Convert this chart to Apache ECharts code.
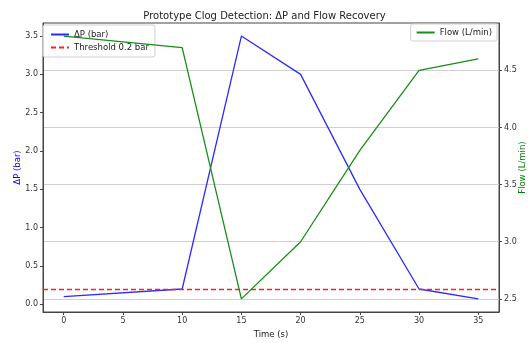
<!DOCTYPE html>
<html>
<head>
<meta charset="utf-8">
<script src="https://cdn.jsdelivr.net/npm/echarts@6/dist/echarts.min.js"></script>
<style>
html, body { margin: 0; padding: 0; background: #fff; }
#chart { width: 529px; height: 343px; }
</style>
</head>
<body>
<div id="chart"></div>
<script>
const timeS = [0, 10, 15, 20, 25, 30, 35];
const dpBar = [0.1, 0.2, 3.5, 3.0, 1.5, 0.2, 0.07];
const flowLmin = [4.8, 4.7, 2.5, 3.0, 3.8, 4.5, 4.6];
const threshold = 0.2;
const xTicks = [0, 5, 10, 15, 20, 25, 30, 35];
const leftTicks = [0, 0.5, 1, 1.5, 2, 2.5, 3, 3.5];
const rightTicks = [2.5, 3, 3.5, 4, 4.5];

const font = 'DejaVu Sans';
const axisCol = '#444';

const pairs = (xs, ys) => xs.map((x, i) => [x, ys[i]]);

const legendBase = {
    itemWidth: 18,
    itemHeight: 8,
    itemGap: 4,
    borderColor: '#d0d0d0',
    borderWidth: 1,
    borderRadius: 2,
    backgroundColor: 'rgba(255,255,255,0.8)',
    itemStyle: { opacity: 0 },
    textStyle: { fontSize: 8.5, color: '#222', fontFamily: font },
};

const option = {
    animation: false,
    textStyle: { fontFamily: font },
    title: {
        text: 'Prototype Clog Detection: ΔP and Flow Recovery',
        left: 'center',
        top: 6,
        textStyle: { fontSize: 10, fontWeight: 'normal', color: '#222', fontFamily: font },
    },
    grid: {
        left: 43,
        right: 30,
        top: 23,
        bottom: 31,
        outerBoundsMode: 'none',
        containLabel: false,
        show: true,
        borderColor: axisCol,
        borderWidth: 1,
        backgroundColor: 'transparent',
    },
    legend: [
        Object.assign({}, legendBase, {
            data: ['ΔP (bar)', 'Threshold 0.2 bar'],
            orient: 'vertical',
            left: 43,
            top: 25,
            padding: [5, 6, 5, 7],
        }),
        Object.assign({}, legendBase, {
            data: ['Flow (L/min)'],
            right: 32,
            top: 24,
            padding: [4, 5, 4, 5],
        }),
    ],
    xAxis: {
        type: 'value',
        min: -1.75,
        max: 36.75,
        name: 'Time (s)',
        nameLocation: 'middle',
        nameGap: 17,
        nameTextStyle: { fontSize: 8.5, color: '#222' },
        axisLine: { onZero: false, lineStyle: { color: axisCol } },
        axisTick: { customValues: xTicks, length: 3, lineStyle: { color: axisCol } },
        axisLabel: { customValues: xTicks, fontSize: 8, color: '#333', margin: 5 },
        splitLine: { show: false },
    },
    yAxis: [
        {
            type: 'value',
            position: 'left',
            min: -0.1,
            max: 3.67,
            name: 'ΔP (bar)',
            nameLocation: 'middle',
            nameGap: 21,
            nameMoveOverlap: false,
            nameTextStyle: { fontSize: 8.5, color: '#0000ff' },
            axisLine: { show: true, onZero: false, lineStyle: { color: axisCol } },
            axisTick: { show: true, inside: false, customValues: leftTicks, length: 3, lineStyle: { color: axisCol } },
            axisLabel: {
                customValues: leftTicks,
                fontSize: 8,
                color: '#333',
                margin: 5,
                formatter: (v) => v.toFixed(1),
            },
            splitLine: { show: false },
        },
        {
            type: 'value',
            position: 'right',
            min: 2.385,
            max: 4.915,
            name: 'Flow (L/min)',
            nameLocation: 'middle',
            nameGap: 19,
            nameRotate: 90,
            nameMoveOverlap: false,
            nameTextStyle: { fontSize: 8.5, color: '#008000' },
            axisLine: { show: true, onZero: false, lineStyle: { color: axisCol } },
            axisTick: { show: true, inside: false, customValues: rightTicks, length: 3, lineStyle: { color: axisCol } },
            axisLabel: {
                customValues: rightTicks,
                fontSize: 8,
                color: '#333',
                margin: 5,
                formatter: (v) => v.toFixed(1),
            },
            splitLine: { show: true, lineStyle: { color: '#d0d0d0', width: 1 } },
        },
    ],
    series: [
        {
            name: 'ΔP (bar)',
            type: 'line',
            yAxisIndex: 0,
            data: pairs(timeS, dpBar),
            showSymbol: false,
            symbol: 'none',
            color: '#0000ff',
            lineStyle: { color: '#2b2bff', width: 1.3 },
            z: 2,
        },
        {
            name: 'Threshold 0.2 bar',
            type: 'line',
            yAxisIndex: 0,
            data: [],
            symbol: 'none',
            color: '#ff0000',
            lineStyle: { color: '#ff2020', type: [5, 3], width: 1.3 },
            markLine: {
                silent: true,
                symbol: 'none',
                label: { show: false },
                lineStyle: { color: '#ff2020', type: [5, 3], width: 1.3 },
                data: [{ yAxis: threshold }],
            },
            z: 2,
        },
        {
            name: 'Flow (L/min)',
            type: 'line',
            yAxisIndex: 1,
            data: pairs(timeS, flowLmin),
            showSymbol: false,
            symbol: 'none',
            color: '#008000',
            lineStyle: { color: '#1a8c1a', width: 1.3 },
            z: 5,
        },
    ],
};

const myChart = echarts.init(document.getElementById('chart'));
myChart.setOption(option);
</script>
</body>
</html>
